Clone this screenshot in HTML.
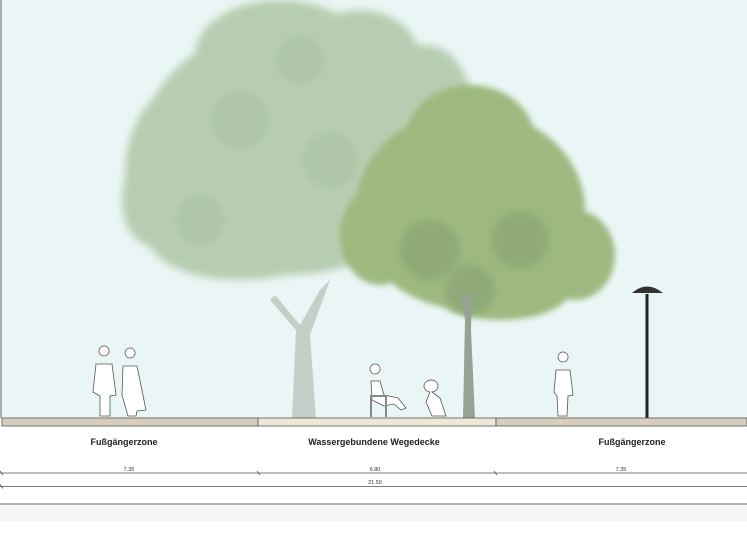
<!DOCTYPE html>
<html><head><meta charset="utf-8"><style>
html,body{margin:0;padding:0;background:#fff;}
svg{display:block;}
text{font-family:"Liberation Sans",sans-serif;}
</style></head><body>
<svg width="747" height="560" viewBox="0 0 747 560" xmlns="http://www.w3.org/2000/svg">
<defs>
<filter id="b1" x="-20%" y="-20%" width="140%" height="140%"><feGaussianBlur stdDeviation="4"/></filter>
<filter id="b2" x="-20%" y="-20%" width="140%" height="140%"><feGaussianBlur stdDeviation="3"/></filter>
</defs>
<rect x="0" y="0" width="747" height="418" fill="#eaf6f5"/>
<line x1="1" y1="0" x2="1" y2="418" stroke="#666" stroke-width="1"/>
<!-- big tree -->
<g filter="url(#b1)" fill="#b7cdb1">
<ellipse cx="290" cy="150" rx="150" ry="125"/>
<ellipse cx="280" cy="55" rx="85" ry="55"/>
<ellipse cx="360" cy="60" rx="60" ry="50"/>
<ellipse cx="185" cy="175" rx="60" ry="90"/>
<ellipse cx="425" cy="100" rx="45" ry="55"/>
<ellipse cx="240" cy="240" rx="90" ry="40"/>
<ellipse cx="150" cy="200" rx="28" ry="45"/>
</g>
<g filter="url(#b2)" fill="#a9c2a2" opacity="0.6">
<circle cx="240" cy="120" r="30"/><circle cx="330" cy="160" r="28"/><circle cx="200" cy="220" r="25"/><circle cx="300" cy="60" r="25"/>
</g>
<path d="M292 418 L296 330 L270 300 L275 295 L300 325 L320 290 L330 280 L310 335 L316 418 Z" fill="#c3cfc7"/>
<!-- second tree -->
<g filter="url(#b2)" fill="#9db980">
<ellipse cx="470" cy="210" rx="115" ry="100"/>
<ellipse cx="470" cy="140" rx="65" ry="55"/>
<ellipse cx="575" cy="255" rx="40" ry="45"/>
<ellipse cx="380" cy="235" rx="40" ry="50"/>
<ellipse cx="500" cy="290" rx="70" ry="30"/>
</g>
<g filter="url(#b2)" fill="#8aa575" opacity="0.7">
<circle cx="430" cy="250" r="30"/><circle cx="520" cy="240" r="28"/><circle cx="470" cy="290" r="25"/>
</g>
<path d="M463 418 L465 320 L462 295 L472 295 L471 330 L475 418 Z" fill="#96a295"/>
<!-- lamp -->
<rect x="645.5" y="294" width="3" height="124" fill="#222"/>
<path d="M632 293 Q647 280 663 293 Z" fill="#333"/>
<!-- people -->
<g fill="#fff" stroke="#555" stroke-width="0.8">
<path d="M104 356 a5 5 0 1 1 0.1 0 M96 364 L112 364 L116 395 L110 396 L110 416 L100 416 L100 396 L93 392 Z"/>
<path d="M130 358 a5 5 0 1 1 0.1 0 M123 366 L137 366 L146 410 L137 411 L136 416 L128 416 L122 395 Z"/>
<path d="M563 362 a5 5 0 1 1 0.1 0 M556 370 L570 370 L573 395 L568 396 L567 416 L558 416 L557 396 L554 392 Z"/>
<path d="M375 374 a5 5 0 1 1 0.1 0 M371 381 L380 381 L384 395 L398 398 L406 408 L401 410 L394 404 L384 406 L372 400 Z"/>
<path d="M370 396 L386 396 L386 417 M371 396 L371 417" fill="none" stroke="#888" stroke-width="2"/>
<path d="M430 392 a7 6 0 1 1 2 0 L440 398 L446 416 L432 416 L426 402 Z"/>
</g>
<!-- ground -->
<rect x="2" y="418" width="256" height="8" fill="#d8cebe" stroke="#555" stroke-width="0.8"/>
<rect x="258" y="418" width="238" height="8" fill="#efe8d8" stroke="#555" stroke-width="0.8"/>
<rect x="496" y="418" width="251" height="8" fill="#d8cebe" stroke="#555" stroke-width="0.8"/>
<g font-size="9" font-weight="bold" fill="#222" text-anchor="middle">
<text x="124" y="445">Fußgängerzone</text>
<text x="374" y="445">Wassergebundene Wegedecke</text>
<text x="632" y="445">Fußgängerzone</text>
</g>
<g stroke="#555" stroke-width="0.8">
<line x1="0" y1="473" x2="747" y2="473"/>
<line x1="0" y1="486.5" x2="747" y2="486.5"/>
<line x1="0" y1="471" x2="3" y2="475"/><line x1="257" y1="471" x2="260" y2="475"/><line x1="494" y1="471" x2="497" y2="475"/>
<line x1="0" y1="484.5" x2="3" y2="488.5"/>
</g>
<g font-size="5.5" fill="#333" text-anchor="middle">
<text x="129" y="471">7.35</text>
<text x="375" y="471">6.80</text>
<text x="621" y="471">7.35</text>
<text x="375" y="484">21.50</text>
</g>
<rect x="0" y="503" width="747" height="2" fill="#b0b0b0"/>
<rect x="0" y="505" width="747" height="16" fill="#f6f6f6"/>
</svg>
</body></html>
